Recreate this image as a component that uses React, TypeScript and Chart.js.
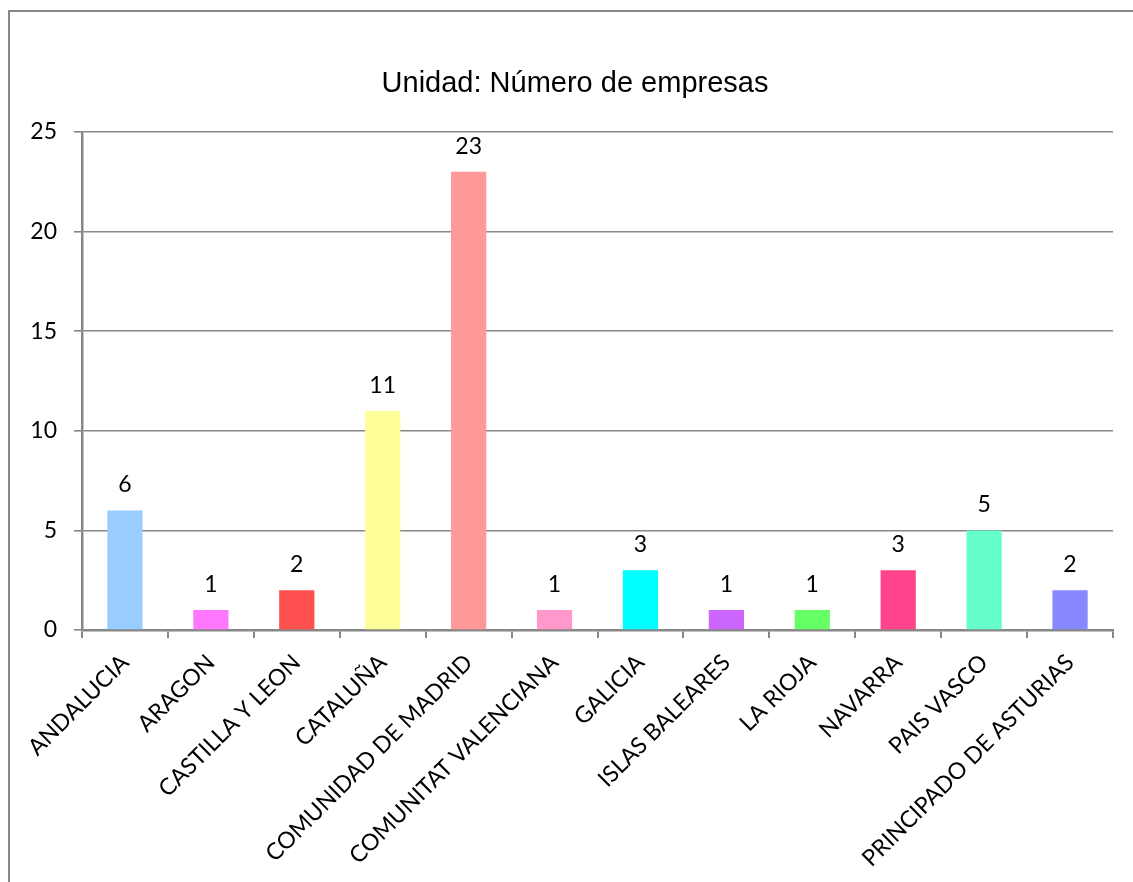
import React, { useEffect, useRef } from 'react';
import { Chart, registerables } from 'chart.js';

Chart.register(...registerables);

const title = 'Unidad: Número de empresas';
const categories = [
  'ANDALUCIA',
  'ARAGON',
  'CASTILLA Y LEON',
  'CATALUÑA',
  'COMUNIDAD DE MADRID',
  'COMUNITAT VALENCIANA',
  'GALICIA',
  'ISLAS BALEARES',
  'LA RIOJA',
  'NAVARRA',
  'PAIS VASCO',
  'PRINCIPADO DE ASTURIAS',
];
const values = [6, 1, 2, 11, 23, 1, 3, 1, 1, 3, 5, 2];
const barColors = [
  '#99CCFF',
  '#FF77FF',
  '#FF5050',
  '#FFFF99',
  '#FF9999',
  '#FF99CC',
  '#00FFFF',
  '#CC66FF',
  '#66FF66',
  '#FF448C',
  '#66FFCC',
  '#8888FF',
];
const yMin = 0;
const yMax = 25;
const yStep = 5;

const GRID = '#878787';
const LABEL_FONT = 'Lato';

export default function App() {
  const ref = useRef<HTMLCanvasElement>(null);

  useEffect(() => {
    if (!ref.current) return;

    const framePlugin = {
      id: 'framePlugin',
      beforeDraw(chart: any) {
        const ctx = chart.ctx;
        ctx.save();
        ctx.fillStyle = '#ffffff';
        ctx.fillRect(0, 0, chart.width, chart.height);
        ctx.strokeStyle = GRID;
        ctx.lineWidth = 2;
        ctx.strokeRect(9, 11, chart.width + 20, chart.height + 20);
        ctx.fillStyle = '#000000';
        ctx.font = '29px "Liberation Sans"';
        ctx.textAlign = 'center';
        ctx.textBaseline = 'alphabetic';
        ctx.fillText(title, 575, 92);
        ctx.restore();
      },
    };

    const valueLabels = {
      id: 'valueLabels',
      afterDatasetsDraw(chart: any) {
        const ctx = chart.ctx;
        const meta = chart.getDatasetMeta(0);
        ctx.save();
        ctx.fillStyle = '#000000';
        ctx.font = `23px ${LABEL_FONT}`;
        ctx.textAlign = 'center';
        ctx.textBaseline = 'alphabetic';
        meta.data.forEach((bar: any, i: number) => {
          ctx.fillText(String(values[i]), bar.x, bar.y - 18);
        });
        ctx.restore();
      },
    };

    const chart = new Chart(ref.current, {
      type: 'bar',
      data: {
        labels: categories,
        datasets: [
          {
            data: values,
            backgroundColor: barColors,
            borderWidth: 0,
            barPercentage: 0.41,
            categoryPercentage: 1,
          },
        ],
      },
      options: {
        responsive: false,
        animation: false,
        devicePixelRatio: 1,
        layout: { padding: { left: 0, right: 20, top: 132, bottom: 0 } },
        plugins: {
          legend: { display: false },
          tooltip: { enabled: false },
          title: { display: false },
        },
        scales: {
          x: {
            offset: true,
            grid: {
              display: true,
              drawOnChartArea: false,
              drawTicks: true,
              tickLength: 8,
              color: GRID,
              lineWidth: 2,
              offset: true,
            },
            border: { display: true, color: GRID, width: 2.5 },
            ticks: {
              color: '#000000',
              font: { family: LABEL_FONT, size: 23 },
              minRotation: 45,
              maxRotation: 45,
              autoSkip: false,
              padding: 11,
            },
            afterFit(scale: any) {
              scale.height = 252;
              scale.paddingLeft = 0;
              scale.paddingRight = 0;
            },
          },
          y: {
            min: yMin,
            max: yMax,
            grid: {
              color: GRID,
              lineWidth: 1.6,
              drawTicks: true,
              tickLength: 8,
            },
            border: { display: true, color: GRID, width: 2.5 },
            ticks: {
              stepSize: yStep,
              color: '#000000',
              font: { family: LABEL_FONT, size: 23 },
              padding: 17,
            },
            afterFit(scale: any) {
              scale.width = 82;
              scale.paddingTop = 0;
            },
          },
        },
      },
      plugins: [framePlugin, valueLabels],
    } as any);

    return () => chart.destroy();
  }, []);

  return (
    <div style={{ position: 'absolute', left: 0, top: 0, width: 1133, height: 882 }}>
      <canvas ref={ref} width={1133} height={882} style={{ display: 'block', width: 1133, height: 882 }} />
    </div>
  );
}
